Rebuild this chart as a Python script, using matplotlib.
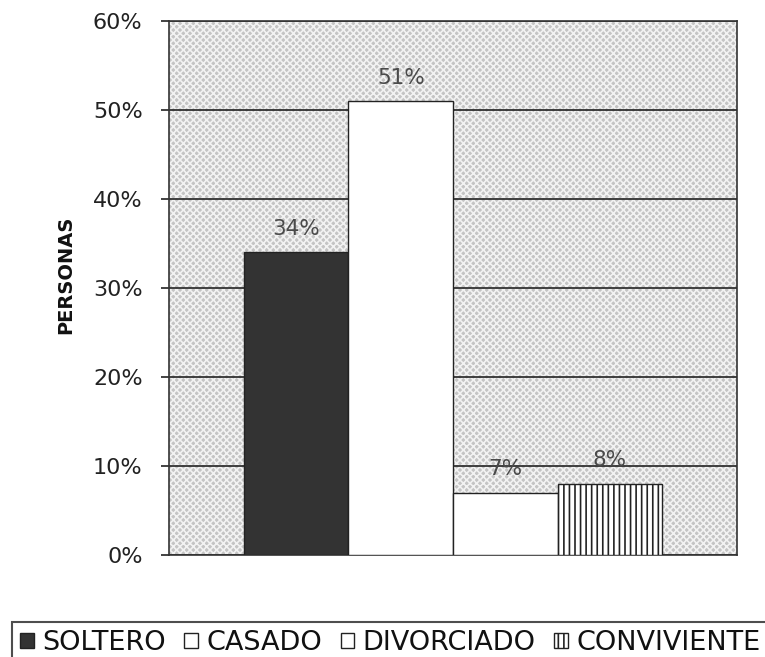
import matplotlib.pyplot as plt
import matplotlib.patches as mpatches
from matplotlib.ticker import PercentFormatter

plt.rcParams['font.family'] = ['DejaVu Sans']
plt.rcParams['hatch.linewidth'] = 1.2

categorias = ['SOLTERO', 'CASADO', 'DIVORCIADO', 'CONVIVIENTE']
valores = [0.34, 0.51, 0.07, 0.08]
etiquetas = ['34%', '51%', '7%', '8%']

colores = ['#333333', 'white', 'white', 'white']
tramas = ['', '', '', '|||']

fig = plt.figure(figsize=(7.65, 6.57), dpi=100)
ax = fig.add_axes([169 / 765, 1 - 555 / 657, 568 / 765, 534 / 657])

# dotted background of the plot area
ax.set_facecolor('#c4c4c4')
fondo = mpatches.Rectangle((0, 0), 1, 1, transform=ax.transAxes,
                           facecolor='none', edgecolor='#f2f2f2',
                           hatch='xxxxx', linewidth=0, zorder=0)
ax.add_patch(fondo)

ancho = 0.184
n = len(valores)
for i, (v, c, h, lab) in enumerate(zip(valores, colores, tramas, etiquetas)):
    x = (i - (n - 1) / 2) * ancho
    ax.bar(x, v, width=ancho, color=c, hatch=h, edgecolor='#222222',
           linewidth=1.0, label=categorias[i], zorder=3)
    ax.text(x, v + 0.015, lab, ha='center', va='bottom', fontsize=15.5,
            color='#4a4a4a', zorder=4)

ax.set_xlim(-0.5, 0.5)
ax.set_ylim(0, 0.6)
ax.set_yticks([0, 0.1, 0.2, 0.3, 0.4, 0.5, 0.6])
ax.yaxis.set_major_formatter(PercentFormatter(1.0, decimals=0))
ax.set_xticks([])
ax.tick_params(axis='y', direction='out', length=6, width=1.2,
               labelsize=16, colors='#222222', pad=13)
ax.yaxis.grid(True, color='#222222', linewidth=1.2, zorder=1)
ax.set_axisbelow(True)
for s in ax.spines.values():
    s.set_color('#333333')
    s.set_linewidth(1.2)

fig.text(66 / 765, 1 - 275 / 657, 'PERSONAS', rotation=90, fontsize=14,
         fontweight='bold', ha='center', va='center', color='#111111')

handles = [mpatches.Patch(facecolor=c, hatch=h, edgecolor='#222222')
           for c, h in zip(colores, tramas)]
leg = fig.legend(handles, categorias, loc='upper left', ncol=4,
                 bbox_to_anchor=(12 / 765, 1 - 622 / 657), fontsize=19.5,
                 frameon=True, fancybox=False, edgecolor='#222222',
                 handlelength=0.5, handleheight=0.5, handletextpad=0.3,
                 columnspacing=0.7, borderpad=0.3, borderaxespad=0)
leg.get_frame().set_linewidth(1.5)
for t in leg.get_texts():
    t.set_color('#111111')

fig.savefig('out.png', dpi=100)
